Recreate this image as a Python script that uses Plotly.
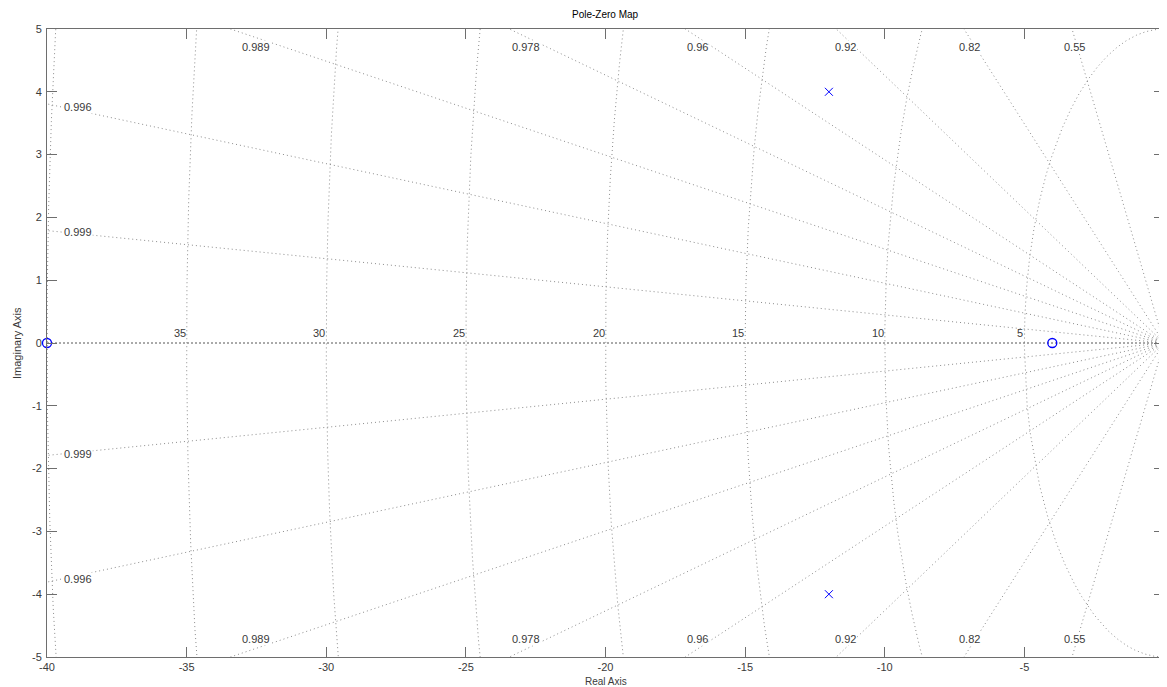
import numpy as np
import plotly.graph_objects as go

# ---- data ----
title_text = "Pole-Zero Map"
x_title = "Real Axis"
y_title = "Imaginary Axis"

pole_re = [-12, -12]
pole_im = [4, -4]
zero_re = [-40, -4]
zero_im = [0, 0]

zeta = [0.55, 0.82, 0.92, 0.96, 0.978, 0.989, 0.9955, 0.999]
zeta_text = ["0.55", "0.82", "0.92", "0.96", "0.978", "0.989", "0.996", "0.999"]
zeta_label_x = [-3.19, -6.95, -11.39, -16.69, -22.85, -32.52, -38.89, -38.89]
zeta_label_y = [4.72, 4.72, 4.72, 4.72, 4.72, 4.72, 3.76, 1.77]

wn = [5, 10, 15, 20, 25, 30, 35, 40]

x_ticks = [-40, -35, -30, -25, -20, -15, -10, -5, 0]
y_ticks = [-5, -4, -3, -2, -1, 0, 1, 2, 3, 4, 5]

FONT = "Liberation Sans, Arial, sans-serif"
GRID = "#8c8c8c"
AX = "#6e6e6e"
TXT = "#3a3a3a"

fig = go.Figure()

# damping lines
R = 200.0
lx, ly = [], []
for z in zeta:
    s = np.sqrt(1 - z * z)
    for sign in (1, -1):
        lx += [0, -R * z, None]
        ly += [0, sign * R * s, None]
fig.add_trace(go.Scatter(x=lx, y=ly, mode="lines", hoverinfo="skip",
                         line=dict(color=GRID, width=1, dash="1px,3px"),
                         showlegend=False))

# natural frequency circles
th = np.linspace(np.pi / 2, 3 * np.pi / 2, 4000)
cx, cy = [], []
for w in wn:
    cx += list(w * np.cos(th)) + [None]
    cy += list(w * np.sin(th)) + [None]
fig.add_trace(go.Scatter(x=cx, y=cy, mode="lines", hoverinfo="skip",
                         line=dict(color=GRID, width=1, dash="1px,3px"),
                         showlegend=False))

# real axis (zeta = 1)
fig.add_trace(go.Scatter(x=[-R, 0], y=[0, 0], mode="lines", hoverinfo="skip",
                         line=dict(color="#555555", width=1, dash="2px,2px"),
                         showlegend=False))

# poles and zeros
fig.add_trace(go.Scatter(x=pole_re, y=pole_im, mode="markers", showlegend=False,
                         marker=dict(symbol="x-thin", size=8, color="#0000ff",
                                     line=dict(color="#0000ff", width=1)),
                         cliponaxis=False))
fig.add_trace(go.Scatter(x=zero_re, y=zero_im, mode="markers", showlegend=False,
                         marker=dict(symbol="circle-open", size=9, color="#0000ff",
                                     line=dict(color="#0000ff", width=1.3)),
                         cliponaxis=False))

ann = []
for t, xx, yy in zip(zeta_text, zeta_label_x, zeta_label_y):
    for sign in (1, -1):
        ann.append(dict(x=xx, y=sign * yy, xref="x", yref="y", text=t,
                        showarrow=False, font=dict(family=FONT, size=11, color=TXT),
                        bgcolor="white", borderpad=0))
for w in wn:
    if w < 40:
        ann.append(dict(x=-w, y=0, xref="x", yref="y", text=str(w),
                        xanchor="right", yanchor="bottom", yshift=2, xshift=1,
                        showarrow=False, font=dict(family=FONT, size=11, color=TXT)))

ann.append(dict(x=0.5, y=1, xref="paper", yref="paper", yshift=15, text=title_text,
                showarrow=False, yanchor="middle",
                font=dict(family=FONT, size=10, color="#000000")))
ann.append(dict(x=0.5, y=0, xref="paper", yref="paper", yshift=-17, text=x_title,
                showarrow=False, yanchor="top",
                font=dict(family=FONT, size=10, color=TXT)))
ann.append(dict(x=0, y=0.5, xref="paper", yref="paper", xshift=-30, text=y_title,
                showarrow=False, textangle=-90, xanchor="center",
                font=dict(family=FONT, size=11, color=TXT)))
fig.update_layout(annotations=ann)

axis_common = dict(showgrid=False, zeroline=False, showline=True, linecolor=AX,
                   linewidth=1, mirror="ticks", ticks="inside", ticklen=10,
                   tickcolor=AX, tickwidth=1, automargin=False,
                   tickfont=dict(family=FONT, size=11, color=TXT))
fig.update_xaxes(range=[-40, 0], tickvals=x_ticks, ticktext=[str(v) for v in x_ticks],
                 ticklabelstandoff=0, **axis_common)
fig.update_yaxes(range=[-5, 5], tickvals=y_ticks, ticktext=[str(v) for v in y_ticks],
                 ticklabelstandoff=2, **axis_common)

# the page body has an 8px default margin; margins are compensated for it
fig.update_layout(width=1159, height=679, plot_bgcolor="white", paper_bgcolor="white",
                  margin=dict(l=39, r=3, t=21, b=30, autoexpand=False), showlegend=False)

fig.write_html("out.html")
